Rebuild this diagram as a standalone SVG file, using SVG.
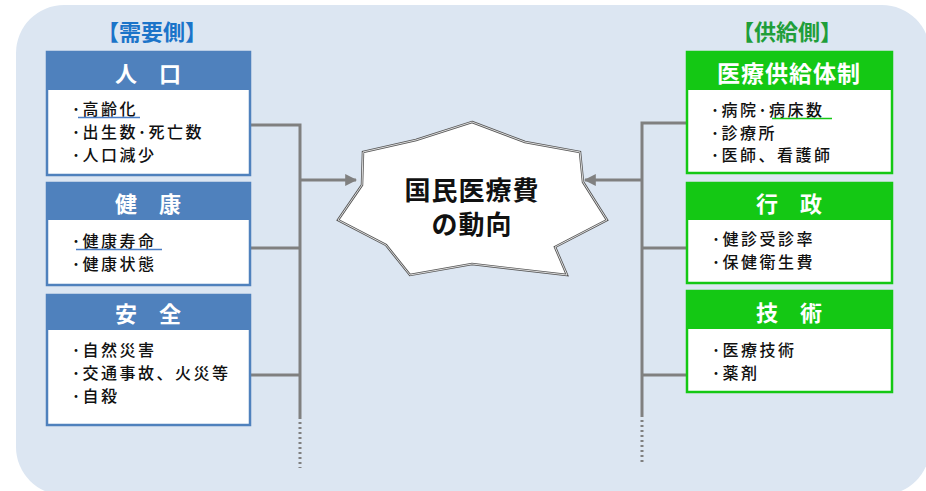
<svg xmlns="http://www.w3.org/2000/svg" width="926" height="491" viewBox="0 0 926 491">
<defs>
<style>
.bg{fill:#dce6f2}
.lb{fill:#fff;stroke:#4f81bd;stroke-width:2.5}
.lh{fill:#4f81bd}
.rb{fill:#fff;stroke:#14c814;stroke-width:2.5}
.rh{fill:#14c814}
.ht{font-family:"Noto Sans CJK JP","Noto Sans CJK SC",sans-serif;font-weight:bold;fill:#fff;text-anchor:middle}
.bt{font-family:"Noto Sans CJK JP","Noto Sans CJK SC",sans-serif;font-size:16px;font-weight:500;fill:#111;letter-spacing:2.5px}
.cn{fill:none;stroke:#808080;stroke-width:3}
.dt{fill:none;stroke:#808080;stroke-width:3;stroke-dasharray:2 3}
.ti{font-family:"Noto Sans CJK JP","Noto Sans CJK SC",sans-serif;font-weight:bold;font-size:22px;text-anchor:middle}
</style>
<marker id="ah" viewBox="0 0 10 10" refX="9" refY="5" markerWidth="4" markerHeight="4" orient="auto" markerUnits="strokeWidth">
<path d="M0,0 L10,5 L0,10 z" fill="#808080"/>
</marker>
</defs>
<rect class="bg" x="16" y="5" width="914" height="490" rx="48" ry="48"/>
<text class="ti" x="152" y="40" fill="#1b74c9">【需要側】</text>
<text class="ti" x="787" y="40" fill="#1f9e3a">【供給側】</text>

<g id="connectors">
<path class="cn" d="M250,125 H300 V417"/>
<path class="cn" d="M250,248 H300"/>
<path class="cn" d="M250,375 H300"/>
<path class="dt" d="M300,417 V468"/>
<path class="cn" d="M300,180 H356" marker-end="url(#ah)"/>
<path class="cn" d="M687,123 H642 V415"/>
<path class="cn" d="M687,248 H642"/>
<path class="cn" d="M687,375 H642"/>
<path class="dt" d="M642,415 V462"/>
<path class="cn" d="M642,180 H585" marker-end="url(#ah)"/>
</g>

<g id="node-jinkou">
<rect class="lb" x="47" y="52" width="203" height="123"/>
<rect class="lh" x="46" y="51" width="205" height="39"/>
<text class="ht" x="148" y="82" font-size="22">人　口</text>
<text class="bt" x="72" y="115">･高齢化</text>
<line x1="78" y1="117.5" x2="140" y2="117.5" stroke="#4a7cc4" stroke-width="1.5"/>
<text class="bt" x="72" y="138">･出生数･死亡数</text>
<text class="bt" x="72" y="161">･人口減少</text>
</g>

<g id="node-kenkou">
<rect class="lb" x="47" y="183" width="203" height="102"/>
<rect class="lh" x="46" y="182" width="205" height="38"/>
<text class="ht" x="148" y="212" font-size="22">健　康</text>
<text class="bt" x="72" y="247">･健康寿命</text>
<line x1="76" y1="249.5" x2="162" y2="249.5" stroke="#4a7cc4" stroke-width="1.5"/>
<text class="bt" x="72" y="270">･健康状態</text>
</g>

<g id="node-anzen">
<rect class="lb" x="47" y="295" width="203" height="130"/>
<rect class="lh" x="46" y="294" width="205" height="36"/>
<text class="ht" x="148" y="322" font-size="22">安　全</text>
<text class="bt" x="72" y="356">･自然災害</text>
<text class="bt" x="72" y="379">･交通事故、火災等</text>
<text class="bt" x="72" y="402">･自殺</text>
</g>

<g id="node-center">
<polygon points="472,122 525,142 580,152 583,182 607,220 555,247 567,275 472,264 410,275 386,245 338,220 362,185 363,152 416,140" fill="#fff" stroke="#555" stroke-width="2.5" stroke-linejoin="miter"/>
<polygon points="472,122 525,142 580,152 583,182 607,220 555,247 567,275 472,264 410,275 386,245 338,220 362,185 363,152 416,140" fill="none" stroke="#fff" stroke-width="0.8"/>
<text class="ht" x="472" y="200" font-size="26" style="fill:#111" letter-spacing="1">国民医療費</text>
<text class="ht" x="472" y="234" font-size="26" style="fill:#111" letter-spacing="1">の動向</text>
</g>

<g id="node-kyokyu">
<rect class="rb" x="687" y="52" width="205" height="121"/>
<rect class="rh" x="686" y="51" width="207" height="39"/>
<text class="ht" x="789" y="82" font-size="23" letter-spacing="1">医療供給体制</text>
<text class="bt" x="711" y="116">･病院･病床数</text>
<line x1="772" y1="118.5" x2="832" y2="118.5" stroke="#14c814" stroke-width="1.5"/>
<text class="bt" x="711" y="139">･診療所</text>
<text class="bt" x="711" y="161">･医師、看護師</text>
</g>

<g id="node-gyousei">
<rect class="rb" x="687" y="183" width="205" height="100"/>
<rect class="rh" x="686" y="182" width="207" height="38"/>
<text class="ht" x="789" y="212" font-size="22">行　政</text>
<text class="bt" x="712" y="245">･健診受診率</text>
<text class="bt" x="712" y="268">･保健衛生費</text>
</g>

<g id="node-gijutsu">
<rect class="rb" x="687" y="291" width="205" height="101"/>
<rect class="rh" x="686" y="290" width="207" height="39"/>
<text class="ht" x="789" y="321" font-size="22">技　術</text>
<text class="bt" x="712" y="356">･医療技術</text>
<text class="bt" x="712" y="379">･薬剤</text>
</g>
</svg>
